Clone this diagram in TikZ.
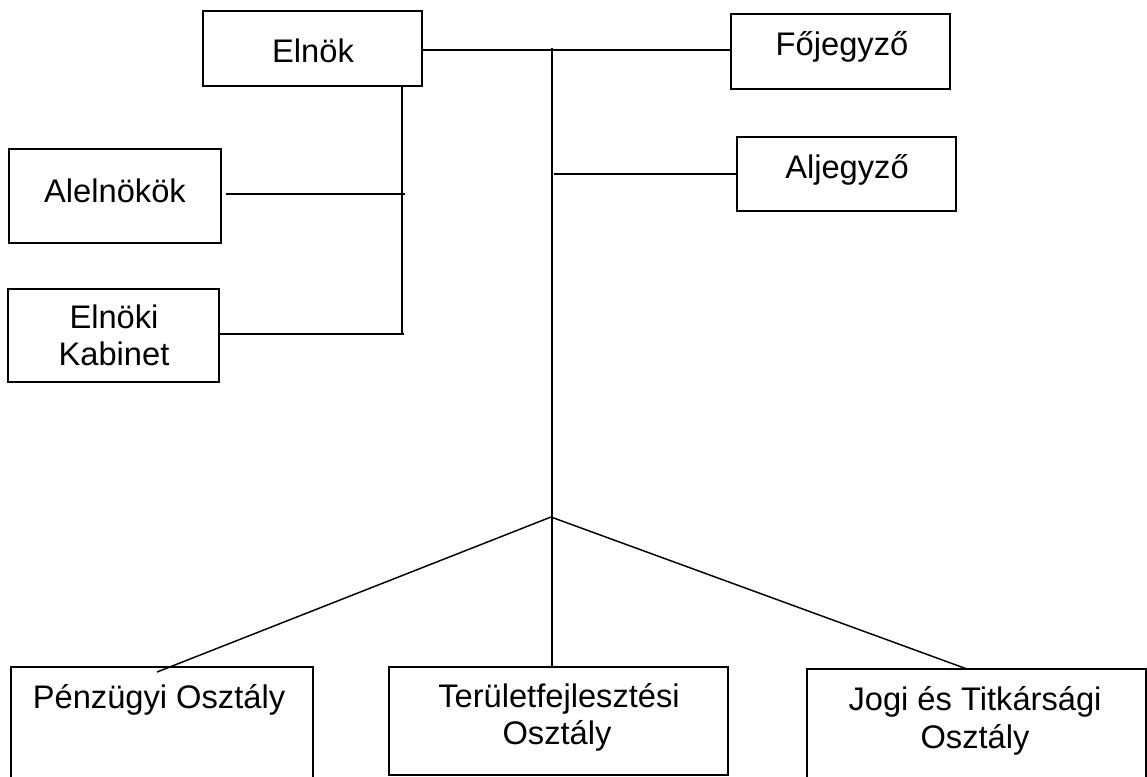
\documentclass[tikz,border=0pt]{standalone}
\usepackage{fontspec}
\setmainfont{Liberation Sans}
\usetikzlibrary{fit}
\begin{document}
\begin{tikzpicture}[x=0.75pt,y=-0.75pt,
  box/.style={draw=black, line width=1.1pt, inner sep=0pt, rectangle},
  conn/.style={draw=black, line width=1.1pt},
  lbl/.style={inner sep=0pt, anchor=base, font=\fontsize{24.5pt}{27.75pt}\selectfont}]
\useasboundingbox (0,0) rectangle (1147,776);
\clip (0,0) rectangle (1147,776);
% boxes
\node[box, fit={(203,11) (422,86)}] (elnok) {};
\node[box, fit={(731,14) (950,89)}] (fojegyzo) {};
\node[box, fit={(737,137) (956,211)}] (aljegyzo) {};
\node[box, fit={(9,149) (221,243)}] (alelnokok) {};
\node[box, fit={(8,289) (219,382)}] (kabinet) {};
\node[box, fit={(11,667) (313,790)}] (penzugyi) {};
\node[box, fit={(389,667) (728,775)}] (terulet) {};
\node[box, fit={(807,669) (1146,790)}] (jogi) {};
% labels
\node[lbl] (elnokT) at (313,62) {Elnök};
\node[lbl] (fojT) at (842,55) {Főjegyző};
\node[lbl] (aljT) at (847,178) {Aljegyző};
\node[lbl] (aleT) at (115,202) {Alelnökök};
\node[lbl] (kabT1) at (114,328) {Elnöki};
\node[lbl] (kabT2) at (114,365) {Kabinet};
\node[lbl] (penT) at (159,708) {Pénzügyi Osztály};
\node[lbl] (terT1) at (559,707) {Területfejlesztési};
\node[lbl] (terT2) at (557,744) {Osztály};
\node[lbl] (jogT1) at (975,710) {Jogi és Titkársági};
\node[lbl] (jogT2) at (975,748) {Osztály};
% coordinates
\coordinate (mtop) at (552,48);
\coordinate (hline) at (0,50);
\coordinate (aljy) at (554,174);
\coordinate (ev) at (402,86);
\coordinate (evend) at (402,334);
\coordinate (alej) at (405,194);
\coordinate (kabj) at (404,334);
\coordinate (junc) at (551,517);
\coordinate (penend) at (157,672);
\coordinate (jogend) at (967,669);
% connectors
\draw[conn] (elnok.east |- hline) -- (fojegyzo.west |- hline);
\draw[conn] (mtop) -- (mtop |- terulet.north);
\draw[conn] (aljy) -- (aljegyzo.west |- aljy);
\draw[conn] (ev) -- (evend);
\draw[conn] (alelnokok.east |- alej) ++(4,0) -- (alej);
\draw[conn] (kabinet.east |- kabj) -- (kabj);
\draw[conn] (junc) -- (penend);
\draw[conn] (junc) -- (jogend);
\end{tikzpicture}
\end{document}
